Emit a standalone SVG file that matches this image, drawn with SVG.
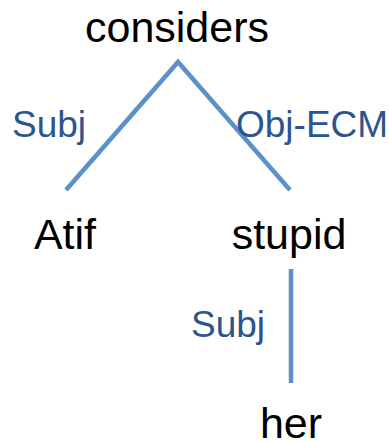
<svg xmlns="http://www.w3.org/2000/svg" width="389" height="443" viewBox="0 0 389 443">
<style>
.w{font-family:"Liberation Sans",Arial,sans-serif;font-size:43px;fill:#000;text-anchor:middle}
.l{font-family:"Liberation Sans",Arial,sans-serif;font-size:37px;fill:#2C5590}
.e{stroke:#5B90CA;stroke-width:4.5;fill:none}
</style>
<rect width="389" height="443" fill="#fff"/>
<g id="edges">
<path class="e" d="M66 190 L178 62 L290 190"/>
<path class="e" d="M291 269 V383"/>
</g>
<g id="edge-labels">
<text class="l" x="12" y="137">Subj</text>
<text class="l" x="236" y="137">Obj-ECM</text>
<text class="l" x="191" y="337">Subj</text>
</g>
<g id="considers"><text class="w" x="177" y="42">considers</text></g>
<g id="atif"><text class="w" x="65" y="249">Atif</text></g>
<g id="stupid"><text class="w" x="289" y="249">stupid</text></g>
<g id="her"><text class="w" x="291" y="438">her</text></g>
</svg>
